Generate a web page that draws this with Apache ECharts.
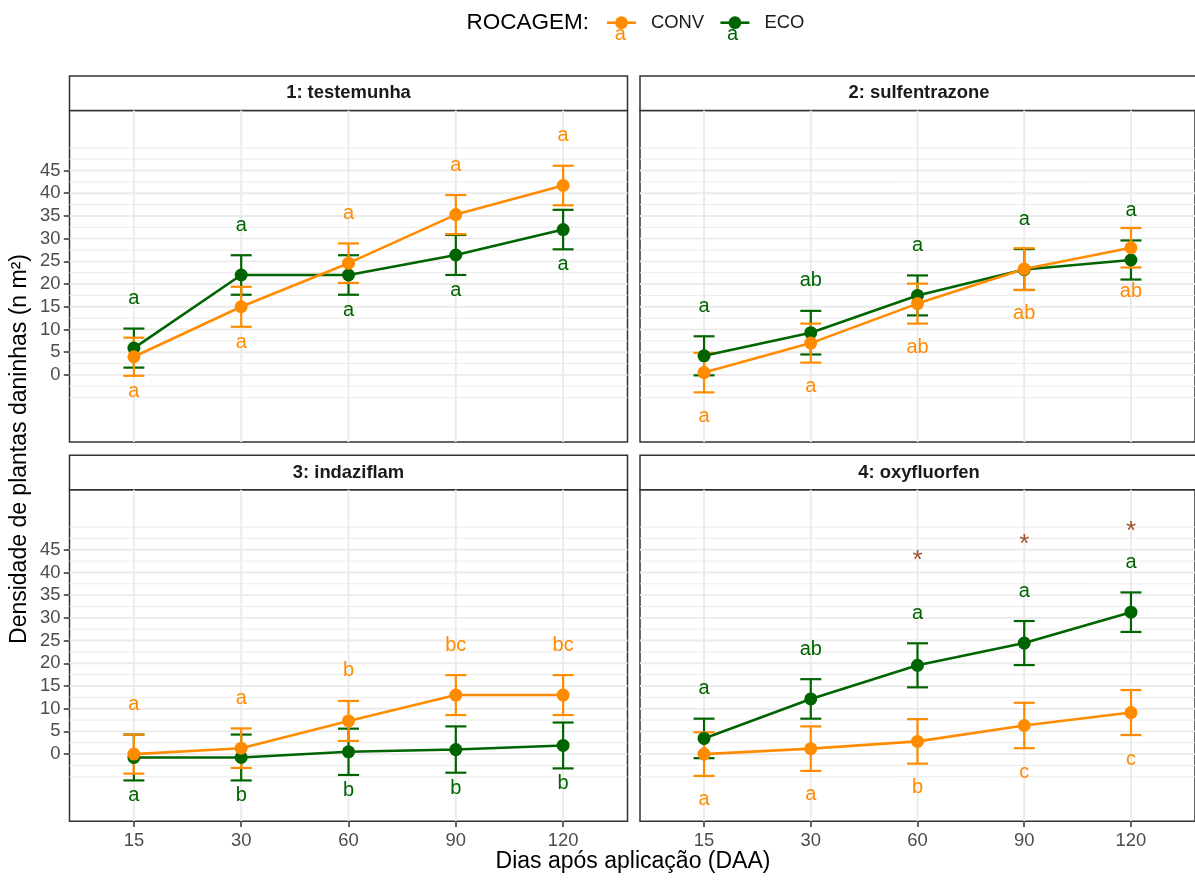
<!DOCTYPE html>
<html><head><meta charset="utf-8">
<script src="https://cdn.jsdelivr.net/npm/echarts@6/dist/echarts.min.js"></script>
<style>html,body{margin:0;padding:0;background:#fff}#c{width:1195px;height:880px}</style>
</head><body><div id="c"></div>
<script>
// ---------- DATA ----------
const days = ['15', '30', '60', '90', '120'];
const panelTitles = ['1: testemunha', '2: sulfentrazone', '3: indaziflam', '4: oxyfluorfen'];
const yTicks = [0, 5, 10, 15, 20, 25, 30, 35, 40, 45];
const groups = ['CONV', 'ECO'];

// 1: testemunha
const conv1 = [4.0, 15.0, 24.6, 35.3, 41.7];
const convSe1 = [4.2, 4.4, 4.35, 4.3, 4.35];
const eco1 = [5.9, 22.0, 22.0, 26.4, 32.0];
const ecoSe1 = [4.3, 4.35, 4.35, 4.4, 4.35];
const convLetters1 = ['a', 'a', 'a', 'a', 'a'];
const ecoLetters1 = ['a', 'a', 'a', 'a', 'a'];
const upper1 = ['ECO', 'ECO', 'CONV', 'CONV', 'CONV'];

// 2: sulfentrazone
const conv2 = [0.5, 7.0, 15.7, 23.3, 28.0];
const convSe2 = [4.35, 4.3, 4.4, 4.6, 4.35];
const eco2 = [4.2, 9.3, 17.5, 23.2, 25.3];
const ecoSe2 = [4.3, 4.8, 4.4, 4.5, 4.3];
const convLetters2 = ['a', 'a', 'ab', 'ab', 'ab'];
const ecoLetters2 = ['a', 'ab', 'a', 'a', 'a'];
const upper2 = ['ECO', 'ECO', 'ECO', 'ECO', 'ECO'];

// 3: indaziflam
const conv3 = [0.0, 1.3, 7.3, 13.0, 13.0];
const convSe3 = [4.3, 4.35, 4.4, 4.4, 4.4];
const eco3 = [-0.75, -0.75, 0.5, 1.0, 1.9];
const ecoSe3 = [5.05, 5.05, 5.1, 5.1, 5.05];
const convLetters3 = ['a', 'a', 'b', 'bc', 'bc'];
const ecoLetters3 = ['a', 'b', 'b', 'b', 'b'];
const upper3 = ['CONV', 'CONV', 'CONV', 'CONV', 'CONV'];

// 4: oxyfluorfen
const conv4 = [0.0, 1.2, 2.8, 6.3, 9.15];
const convSe4 = [4.8, 4.9, 4.9, 5.0, 4.95];
const eco4 = [3.45, 12.15, 19.55, 24.45, 31.25];
const ecoSe4 = [4.35, 4.35, 4.85, 4.85, 4.35];
const convLetters4 = ['a', 'a', 'b', 'c', 'c'];
const ecoLetters4 = ['a', 'ab', 'a', 'a', 'a'];
const upper4 = ['ECO', 'ECO', 'ECO', 'ECO', 'ECO'];
const stars4 = ['', '', '*', '*', '*'];
const starY4 = [null, null, 43.9, 47.4, 50.2];

// ---------- LAYOUT / STYLE ----------
const FONT = '"Liberation Sans", Arial, Helvetica, sans-serif';
const COL = { CONV: '#FF8C00', ECO: '#006400' };
const STAR_COL = '#A0522D';
const PW = 558, PH = 331.5, STRIP_H = 34.6;
const POS = [{ left: 69.5, top: 110.6 }, { left: 640, top: 110.6 }, { left: 69.5, top: 489.8 }, { left: 640, top: 489.8 }];
const BELOW_GAP = [15.4, 24, 15.4, 24];
const ABOVE_GAP = 30;
const Y_MIN = -14.8, Y_MAX = 58.2;
const GRID_MAJOR_W = 1.9, GRID_MINOR_W = 1.0;

const panels = [
  { conv: conv1, convSe: convSe1, eco: eco1, ecoSe: ecoSe1, convL: convLetters1, ecoL: ecoLetters1, upper: upper1 },
  { conv: conv2, convSe: convSe2, eco: eco2, ecoSe: ecoSe2, convL: convLetters2, ecoL: ecoLetters2, upper: upper2 },
  { conv: conv3, convSe: convSe3, eco: eco3, ecoSe: ecoSe3, convL: convLetters3, ecoL: ecoLetters3, upper: upper3 },
  { conv: conv4, convSe: convSe4, eco: eco4, ecoSe: ecoSe4, convL: convLetters4, ecoL: ecoLetters4, upper: upper4, stars: stars4, starY: starY4 }
];

// grid line values (major at tick values, minor halfway, extended one step beyond)
const step = yTicks[1] - yTicks[0];
const hLines = [];
for (let v = yTicks[0] - step; v <= yTicks[yTicks.length - 1] + step + 1e-9; v += step / 2) {
  const major = yTicks.some(t => Math.abs(t - v) < 1e-9);
  hLines.push([0, v, major ? 1 : 0]);
}
const vLines = days.map((d, i) => [i, 0]);

const grid = [], xAxis = [], yAxis = [], series = [], graphic = [];

panels.forEach((p, k) => {
  const pos = POS[k];
  const bottomRow = k >= 2, leftCol = k % 2 === 0;
  grid.push({ left: pos.left, top: pos.top, width: PW, height: PH, show: true,
    borderColor: '#333333', borderWidth: 1.5, backgroundColor: '#ffffff' });
  xAxis.push({ type: 'value', gridIndex: k, min: -0.6, max: 4.6, position: 'bottom',
    axisLine: { show: false, onZero: false }, splitLine: { show: false },
    axisTick: { show: bottomRow, customValues: [0, 1, 2, 3, 4], length: 5.7, lineStyle: { color: '#333333', width: 1.5 } },
    axisLabel: { show: bottomRow, customValues: [0, 1, 2, 3, 4], formatter: v => days[Math.round(v)],
      color: '#4D4D4D', fontSize: 18.4, fontFamily: FONT, margin: 11 } });
  yAxis.push({ type: 'value', gridIndex: k, min: Y_MIN, max: Y_MAX, position: 'left',
    axisLine: { show: false, onZero: false }, splitLine: { show: false },
    axisTick: { show: leftCol, customValues: yTicks, length: 5.7, lineStyle: { color: '#333333', width: 1.5 } },
    axisLabel: { show: leftCol, customValues: yTicks, color: '#4D4D4D', fontSize: 18.4, fontFamily: FONT, margin: 9 } });

  // grid lines
  series.push({ type: 'custom', xAxisIndex: k, yAxisIndex: k, z: 0, silent: true, data: hLines,
    renderItem: (params, api) => {
      const cs = params.coordSys;
      const y = api.coord([0, api.value(1)])[1];
      return { type: 'line', shape: { x1: cs.x, y1: y, x2: cs.x + cs.width, y2: y },
        style: { stroke: '#EBEBEB', lineWidth: api.value(2) ? GRID_MAJOR_W : GRID_MINOR_W } };
    } });
  series.push({ type: 'custom', xAxisIndex: k, yAxisIndex: k, z: 0, silent: true, data: vLines,
    renderItem: (params, api) => {
      const cs = params.coordSys;
      const x = api.coord([api.value(0), 0])[0];
      return { type: 'line', shape: { x1: x, y1: cs.y, x2: x, y2: cs.y + cs.height },
        style: { stroke: '#EBEBEB', lineWidth: GRID_MAJOR_W } };
    } });

  // groups: ECO first, CONV on top
  [['ECO', p.eco, p.ecoSe, p.ecoL], ['CONV', p.conv, p.convSe, p.convL]].forEach(([g, mean, se, letters]) => {
    const col = COL[g];
    series.push({ type: 'custom', xAxisIndex: k, yAxisIndex: k, z: 3, silent: true,
      encode: { x: 0, y: [1, 2] },
      data: mean.map((m, i) => [i, m - se[i], m + se[i]]),
      renderItem: (params, api) => {
        const lo = api.coord([api.value(0), api.value(1)]);
        const hi = api.coord([api.value(0), api.value(2)]);
        const hw = 10.5, st = { stroke: col, lineWidth: 2.2 };
        return { type: 'group', children: [
          { type: 'line', shape: { x1: lo[0], y1: lo[1], x2: hi[0], y2: hi[1] }, style: st },
          { type: 'line', shape: { x1: lo[0] - hw, y1: lo[1], x2: lo[0] + hw, y2: lo[1] }, style: st },
          { type: 'line', shape: { x1: hi[0] - hw, y1: hi[1], x2: hi[0] + hw, y2: hi[1] }, style: st }
        ] };
      } });
    series.push({ type: 'line', name: g, xAxisIndex: k, yAxisIndex: k, z: 3,
      data: mean.map((m, i) => [i, m]), symbol: 'circle', symbolSize: 13, showSymbol: true,
      lineStyle: { color: col, width: 2.6 }, itemStyle: { color: col }, emphasis: { disabled: true } });
    // letters
    series.push({ type: 'custom', xAxisIndex: k, yAxisIndex: k, z: 4, silent: true,
      data: mean.map((m, i) => {
        const up = p.upper[i] === g;
        return [i, up ? m + se[i] : m - se[i], up ? 1 : -1];
      }),
      renderItem: (params, api) => {
        const pt = api.coord([api.value(0), api.value(1)]);
        const up = api.value(2) > 0;
        return { type: 'text', x: pt[0], y: pt[1] + (up ? -ABOVE_GAP : BELOW_GAP[k]),
          style: { text: letters[params.dataIndex], fill: col, fontSize: 20, fontFamily: FONT,
            align: 'center', verticalAlign: 'middle' } };
      } });
  });

  if (p.stars) {
    series.push({ type: 'custom', xAxisIndex: k, yAxisIndex: k, z: 4, silent: true,
      data: p.starY.map((v, i) => [i, v == null ? NaN : v]).filter(d => !isNaN(d[1])),
      renderItem: (params, api) => {
        const pt = api.coord([api.value(0), api.value(1)]);
        const fs = 26;
        return { type: 'text', x: pt[0], y: pt[1] + 0.225 * fs,
          style: { text: p.stars[api.value(0)], fill: STAR_COL, fontSize: fs, fontFamily: FONT,
            align: 'center', verticalAlign: 'middle' } };
      } });
  }

  // strip
  graphic.push({ type: 'rect', shape: { x: pos.left, y: pos.top - STRIP_H, width: PW, height: STRIP_H },
    style: { fill: '#ffffff', stroke: '#333333', lineWidth: 1.5 }, silent: true });
  graphic.push({ type: 'text', x: pos.left + PW / 2, y: pos.top - STRIP_H / 2,
    style: { text: panelTitles[k], fill: '#1A1A1A', fontSize: 18.4, fontWeight: 'bold', fontFamily: FONT,
      align: 'center', verticalAlign: 'middle' }, silent: true });
});

// axis titles
graphic.push({ type: 'text', x: 633, y: 862, style: { text: 'Dias após aplicação (DAA)', fill: '#000000',
  fontSize: 23, fontFamily: FONT, align: 'center', verticalAlign: 'middle' }, silent: true });
graphic.push({ type: 'text', x: 20, y: 449, rotation: Math.PI / 2, style: { text: 'Densidade de plantas daninhas (n m²)',
  fill: '#000000', fontSize: 23, fontFamily: FONT, align: 'center', verticalAlign: 'middle' }, silent: true });
// legend title and text keys
graphic.push({ type: 'text', x: 466.5, y: 22.5, style: { text: 'ROCAGEM:', fill: '#000000', fontSize: 22.5,
  fontFamily: FONT, align: 'left', verticalAlign: 'middle' }, silent: true });
graphic.push({ type: 'text', x: 620.2, y: 34, style: { text: 'a', fill: COL.CONV, fontSize: 20, fontFamily: FONT,
  align: 'center', verticalAlign: 'middle' }, silent: true });
graphic.push({ type: 'text', x: 732.5, y: 34, style: { text: 'a', fill: COL.ECO, fontSize: 20, fontFamily: FONT,
  align: 'center', verticalAlign: 'middle' }, silent: true });

const chart = echarts.init(document.getElementById('c'), null, { renderer: 'canvas' });
chart.setOption({
  animation: false,
  backgroundColor: '#ffffff',
  textStyle: { fontFamily: FONT },
  legend: { data: groups, left: 605.7, top: 13.7, padding: 0, itemWidth: 29, itemHeight: 16, itemGap: 15,
    selectedMode: false, lineStyle: { width: 2.6 },
    textStyle: { fontSize: 18.4, color: '#1A1A1A', fontFamily: FONT, padding: [0, 0, 0, 10] } },
  grid, xAxis, yAxis, series, graphic
});
</script></body></html>
